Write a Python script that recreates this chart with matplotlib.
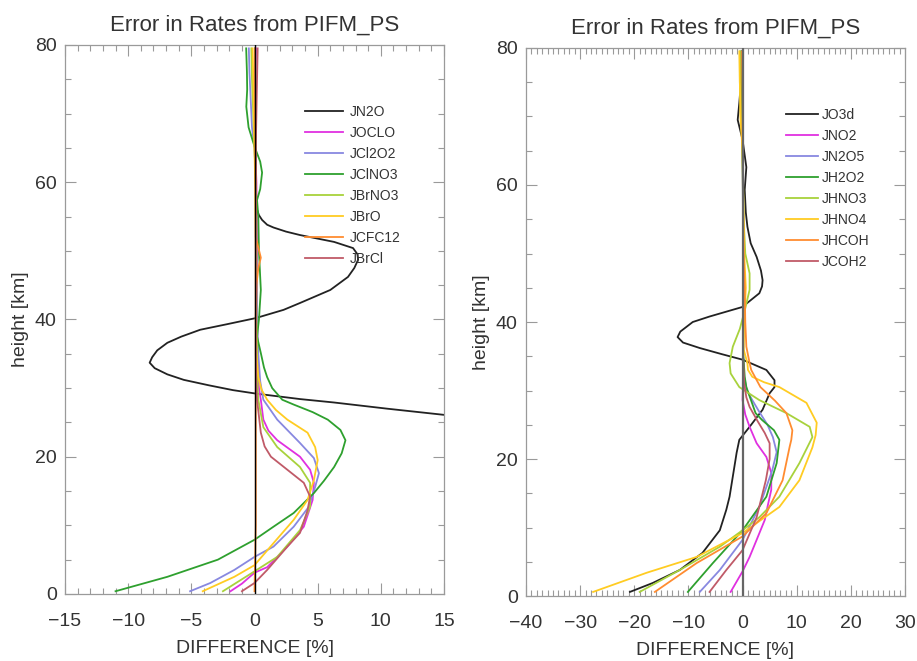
import matplotlib
matplotlib.use("Agg")
import matplotlib.pyplot as plt
from matplotlib.ticker import MultipleLocator

plt.rcParams['font.family'] = ['Liberation Sans', 'DejaVu Sans']

TITLE = "Error in Rates from PIFM_PS"
XLABEL = "DIFFERENCE [%]"
YLABEL = "height [km]"

# ---------------- left panel ----------------
left_labels = ["JN2O", "JOCLO", "JCl2O2", "JClNO3", "JBrNO3", "JBrO", "JCFC12", "JBrCl"]

jn2o_km = [79.5, 70, 60, 57, 56, 55.2, 54.5, 53.8, 53.4, 52.8, 52.3, 51.3, 50.4, 49.5, 48.7, 47.5, 46.2,
           44.3, 42.4, 41.4, 40.2, 39.3, 38.5, 37.5, 36.6, 35.5, 34.5, 33.7, 32.9, 32.0, 31.2, 30.4,
           29.7, 29.2, 28.4, 27.9, 27.0, 26.1, 25.5]
jn2o_x = [0.05, 0.05, 0.1, 0.15, 0.2, 0.35, 0.6, 1.0, 1.5, 2.5, 3.6, 6.3, 7.8, 8.15, 8.2, 7.9, 7.4,
          6.0, 3.6, 2.3, 0.1, -2.2, -4.3, -5.8, -6.9, -7.7, -8.1, -8.3, -7.9, -6.9, -5.6, -3.6,
          -1.7, 0.1, 3.6, 6.3, 10.5, 15.0, 18.0]

joclo_km = [79.5, 75, 70, 65, 60, 50, 40, 35, 30, 28.3, 25.4, 23.8, 22.4, 21.2, 20.0, 18.1, 16.2,
            13.7, 9.8, 6.9, 3.9, 3.1, 1.5, 0.4]
joclo_x = [0.1, 0.05, 0.05, 0.05, 0.15, 0.2, 0.2, 0.25, 0.35, 0.5, 0.7, 1.1, 1.8, 2.7, 3.6, 4.4, 4.7,
           4.6, 3.9, 2.6, 1.0, 0.0, -1.0, -1.9]

jcl2o2_km = [79.5, 76, 72, 68, 65, 60, 50, 40, 35, 31, 28.3, 25.4, 22.0, 19.8, 17.6, 15.6, 12.7,
             9.8, 6.9, 5.4, 3.5, 1.6, 0.4]
jcl2o2_x = [-0.45, -0.4, -0.3, -0.2, 0.0, 0.1, 0.15, 0.2, 0.3, 0.45, 0.7, 1.8, 3.6, 4.7, 5.1, 4.8, 4.3,
            3.1, 1.5, 0.0, -1.6, -3.5, -5.1]

jclno3_km = [79.5, 76, 73.5, 71, 68, 65.2, 63, 61.4, 59, 57.4, 55, 50, 44.3, 40, 37.5, 35.1, 33.0,
             31.6, 30.0, 28.3, 27.6, 26.5, 25.4, 23.9, 22.4, 20.5, 18.5, 16.5, 14.7, 11.8, 9.8, 7.9,
             5.0, 2.5, 0.4]
jclno3_x = [-0.66, -0.6, -0.58, -0.65, -0.47, 0.0, 0.45, 0.6, 0.45, 0.2, 0.3, 0.35, 0.5, 0.35, 0.2, 0.5, 0.75,
            1.0, 1.4, 2.2, 3.1, 4.6, 5.8, 6.8, 7.2, 6.9, 6.3, 5.5, 4.7, 3.1, 1.5, 0.0,
            -2.9, -6.9, -11.0]

jbrno3_km = [79.5, 75, 70, 65, 60, 50, 40, 35, 30, 28.3, 24.3, 21.4, 18.5, 16.2, 12.7, 9.3, 5.4, 3.3, 0.4]
jbrno3_x = [-0.25, -0.2, -0.1, 0.0, 0.1, 0.15, 0.15, 0.2, 0.25, 0.3, 0.7, 1.8, 3.6, 4.4, 4.4, 3.6, 1.8, 0.0, -2.5]

jbro_km = [79.5, 75, 70, 65, 60, 50, 40, 35, 31.6, 29.8, 28.3, 26.8, 25.4, 23.5, 21.4, 19.5, 16.6,
           13.7, 10.8, 7.4, 4.2, 2.5, 0.4]
jbro_x = [-0.15, -0.1, -0.05, 0.0, 0.05, 0.1, 0.1, 0.15, 0.3, 0.55, 1.0, 1.7, 2.6, 4.2, 4.8, 5.0, 4.7,
          4.2, 3.1, 1.5, 0.0, -1.6, -4.1]

jcfc12_km = [79.5, 70, 60, 52, 50.5, 49, 47.5, 45, 40, 30, 20, 10, 5, 0.4]
jcfc12_x = [0.05, 0.05, 0.1, 0.1, 0.3, 0.5, 0.3, 0.15, 0.1, 0.1, 0.1, 0.1, 0.05, 0.0]

jbrcl_km = [79.5, 75, 70, 65, 60, 50, 40, 35, 30, 28.3, 23.5, 21.5, 20.0, 18.1, 16.2, 14.2, 12.2,
            8.9, 6.9, 3.5, 1.6, 0.4]
jbrcl_x = [0.25, 0.2, 0.15, 0.1, 0.1, 0.1, 0.1, 0.1, 0.15, 0.2, 0.5, 0.8, 1.3, 2.6, 3.9, 4.4, 4.2,
           3.6, 2.6, 1.0, 0.0, -1.0]

left_series = [(jn2o_x, jn2o_km), (joclo_x, joclo_km), (jcl2o2_x, jcl2o2_km), (jclno3_x, jclno3_km),
               (jbrno3_x, jbrno3_km), (jbro_x, jbro_km), (jcfc12_x, jcfc12_km), (jbrcl_x, jbrcl_km)]

# ---------------- right panel ----------------
right_labels = ["JO3d", "JNO2", "JN2O5", "JH2O2", "JHNO3", "JHNO4", "JHCOH", "JCOH2"]

jo3d_km = [79.5, 75, 72, 69.5, 66.6, 62.6, 59.3, 56, 53.9, 51.5, 49.5, 47.5, 46.1, 45.2, 44.2, 42.8,
           42.2, 40.8, 40.0, 38.6, 37.8, 37.0, 36.2, 35.3, 34.5, 33.0, 31.5, 30.5, 29.6, 27.2, 24.7,
           22.8, 20.9, 19.9, 14.5, 12.6, 9.6, 6.3, 3.8, 1.9, 0.6]
jo3d_x = [-0.2, -0.3, -0.6, -0.9, 0.0, 0.7, 0.4, 0.6, 0.9, 1.5, 2.6, 3.4, 3.7, 3.6, 3.1, 0.9,
          0.0, -6.1, -9.2, -11.5, -12.0, -11.0, -7.9, -3.8, 0.0, 4.4, 5.9, 5.9, 5.0, 3.7, 1.3,
          -0.6, -1.1, -1.3, -2.4, -3.0, -4.2, -7.4, -11.6, -16.6, -20.8]

jno2_km = [79.5, 70, 60, 50, 40, 35, 30, 28.6, 26.5, 24.7, 22.3, 20.3, 18.0, 15.5, 13.0, 11.1, 8.2,
           5.7, 3.6, 0.6]
jno2_x = [0.1, 0.1, 0.1, 0.1, 0.1, 0.1, 0.05, 0.0, 0.5, 1.3, 2.6, 4.4, 5.3, 5.3, 4.6, 4.1, 2.6,
          1.3, 0.0, -2.2]

jn2o5_km = [79.5, 70, 60, 50, 40, 35, 32, 30, 28.6, 27, 25, 23.2, 21, 18.4, 13, 8.2, 3.8, 0.6]
jn2o5_x = [0.0, 0.0, 0.05, 0.1, 0.1, 0.1, 0.3, 0.8, 1.8, 3.0, 4.6, 5.6, 6.3, 5.5, 3.1, 0.0, -4.2, -7.9]

jh2o2_km = [79.5, 70, 60, 50, 40, 35, 32, 30.5, 28.5, 26.7, 25.7, 24.2, 22.8, 19.4, 14.5, 9.6, 4.8, 0.6]
jh2o2_x = [-0.2, -0.1, 0.05, 0.1, 0.1, 0.15, 0.4, 0.7, 1.6, 2.4, 3.6, 5.8, 6.8, 6.3, 4.4, 0.0, -5.5, -10.1]

jhno3_km = [79.5, 75, 70, 65, 60, 55, 50, 47.1, 44.7, 42, 39, 36.4, 34, 32.5, 30.5, 28.6, 26.7,
            24.7, 23.2, 19.4, 14.5, 11.5, 9.6, 7.2, 3.8, 0.6]
jhno3_x = [-0.5, -0.5, -0.3, 0.0, 0.1, 0.2, 0.5, 1.3, 1.3, 0.5, -0.5, -1.8, -2.4, -2.2, -0.6, 3.1, 8.1,
           12.4, 12.9, 10.5, 6.8, 3.1, 0.0, -4.2, -11.6, -19.0]

jhno4_km = [79.5, 75, 70, 65, 60, 50, 45, 40, 36, 34, 33, 32, 31.2, 30.5, 28.2, 25.3, 23.5, 21.7,
            16.9, 13.0, 9.2, 5.7, 3.4, 0.6]
jhno4_x = [-0.6, -0.5, -0.4, 0.0, 0.1, 0.3, 0.6, 0.3, 0.2, 0.9, 1.0, 1.8, 4.0, 6.8, 11.8, 13.7, 13.5, 12.9,
           10.5, 6.8, 0.0, -8.5, -17.7, -27.6]

jhcoh_km = [79.5, 70, 60, 50, 45, 40, 36.4, 34.0, 33.0, 30.5, 28.5, 26.7, 24.2, 22.8, 21.8, 16.9,
            12.1, 8.7, 4.8, 0.6]
jhcoh_x = [-0.1, 0.0, 0.05, 0.2, 0.4, 0.5, 0.7, 1.3, 1.6, 3.3, 6.0, 8.1, 9.2, 9.0, 8.7, 7.4,
           4.4, 0.0, -8.5, -16.2]

jcoh2_km = [79.5, 70, 60, 50, 40, 35, 31, 29, 27.6, 25.5, 23.8, 22.3, 20, 16.9, 11.5, 6.7, 3.8, 0.6]
jcoh2_x = [0.1, 0.1, 0.1, 0.1, 0.1, 0.1, 0.3, 0.7, 1.3, 2.8, 4.1, 5.0, 5.0, 4.3, 2.6, 0.0, -3.0, -6.1]

right_series = [(jo3d_x, jo3d_km), (jno2_x, jno2_km), (jn2o5_x, jn2o5_km), (jh2o2_x, jh2o2_km),
                (jhno3_x, jhno3_km), (jhno4_x, jhno4_km), (jhcoh_x, jhcoh_km), (jcoh2_x, jcoh2_km)]

colors = ["#222222", "#e030e0", "#8888e0", "#2ea02e", "#a8d23c", "#ffcc22", "#ff8c30", "#c05a68"]

TXT = "#333333"
SPINE = "#9a9a9a"

fig = plt.figure(figsize=(9.17, 6.61), dpi=100)
ax1 = fig.add_axes([0.0709, 0.1014, 0.4133, 0.8306])
ax2 = fig.add_axes([0.5736, 0.0983, 0.4133, 0.8291])


def style(ax, xlim, xmaj, xmin_):
    ax.set_xlim(*xlim)
    ax.set_ylim(0, 80)
    ax.xaxis.set_major_locator(MultipleLocator(xmaj))
    ax.xaxis.set_minor_locator(MultipleLocator(xmin_))
    ax.yaxis.set_major_locator(MultipleLocator(20))
    ax.yaxis.set_minor_locator(MultipleLocator(5))
    ax.tick_params(which='both', direction='in', top=True, right=True, color=SPINE,
                   labelcolor=TXT, labelsize=14, width=0.8)
    ax.tick_params(which='major', length=8)
    ax.tick_params(which='minor', length=4)
    ax.tick_params(axis='x', pad=14)
    ax.tick_params(axis='y', pad=6)
    for s in ax.spines.values():
        s.set_color(SPINE)
        s.set_linewidth(0.9)
    ax.set_title(TITLE, fontsize=16, color=TXT, pad=10)
    ax.set_xlabel(XLABEL, fontsize=14, color=TXT, labelpad=7)
    ax.set_ylabel(YLABEL, fontsize=14, color=TXT, labelpad=4)


style(ax1, (-15, 15), 5, 1)
style(ax2, (-40, 30), 10, 1)

ax1.axvline(0, color="#000000", lw=1.0, zorder=3)
ax2.axvline(0, color="#666666", lw=1.6, zorder=3)

for (xs, ks), c, lab in zip(left_series, colors, left_labels):
    ax1.plot(xs, ks, color=c, lw=1.3, label=lab, zorder=2)
for (xs, ks), c, lab in zip(right_series, colors, right_labels):
    ax2.plot(xs, ks, color=c, lw=1.3, label=lab, zorder=2)

leg_kw = dict(loc='upper left', frameon=False, fontsize=10, borderpad=0, borderaxespad=0,
              labelcolor=TXT, labelspacing=0.5)
ax1.legend(bbox_to_anchor=(0.633, 0.89), handlelength=2.75, handletextpad=0.45, **leg_kw)
ax2.legend(bbox_to_anchor=(0.686, 0.89), handlelength=2.3, handletextpad=0.25, **leg_kw)

fig.savefig("out.png", dpi=100, facecolor="white")
